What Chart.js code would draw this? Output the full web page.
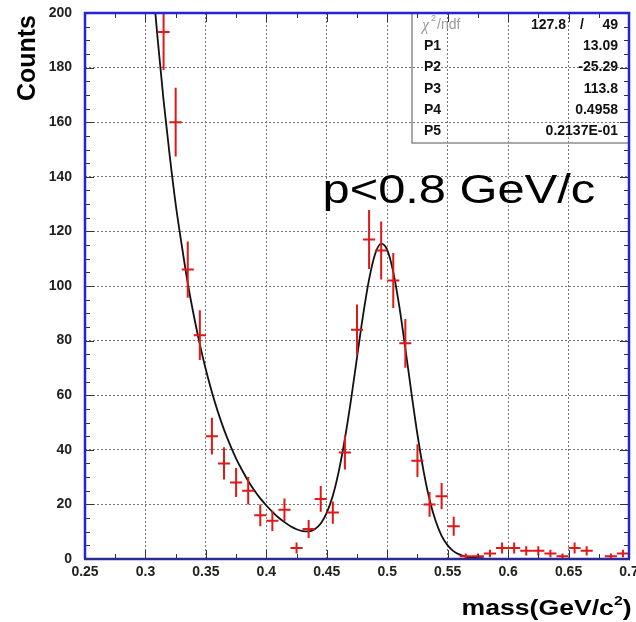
<!DOCTYPE html>
<html lang="en">
<head>
<meta charset="UTF-8">
<title>K0s invariant mass, p&lt;0.8 GeV/c</title>
<script src="https://cdn.jsdelivr.net/npm/chart.js@4"></script>
<style>
  * { margin: 0; padding: 0; }
  body { background: #fff; width: 636px; height: 622px; overflow: hidden; }
  canvas { display: block; }
</style>
</head>
<body>
<canvas id="massChart" width="636" height="622"></canvas>
<script>
// Histogram bins (bin centre, counts, error)
const massBins = [0.315, 0.325, 0.335, 0.345, 0.355, 0.365, 0.375, 0.385, 0.395, 0.405,
                  0.415, 0.425, 0.435, 0.445, 0.455, 0.465, 0.475, 0.485, 0.495, 0.505,
                  0.515, 0.525, 0.535, 0.545, 0.555, 0.565, 0.575, 0.585, 0.595, 0.605,
                  0.615, 0.625, 0.635, 0.645, 0.655, 0.665, 0.675, 0.685, 0.695];
const counts = [193, 160, 106, 82, 45, 35, 28, 25, 16, 14,
                18, 4, 11, 22, 17, 39, 84, 117, 113, 102,
                79, 36, 20, 23, 12, 1, 1, 2, 4, 4,
                3, 3, 2, 1, 4, 3, 0, 1, 2];
const countErrors = [13.9, 12.6, 10.3, 9.1, 6.7, 5.9, 5.3, 5.0, 4.0, 3.7,
                     4.2, 2.0, 3.3, 4.7, 4.1, 6.2, 9.2, 10.8, 10.6, 10.1,
                     8.9, 6.0, 4.5, 4.8, 3.5, 1.0, 1.0, 1.4, 2.0, 2.0,
                     1.7, 1.7, 1.4, 1.0, 2.0, 1.7, 0, 1.0, 1.4];
const binHalfWidth = 0.005;

// Fit curve (expo + gaus) sampled along the drawn line
const fitMass = [0.300, 0.305, 0.310, 0.315, 0.320, 0.325, 0.330, 0.335, 0.340, 0.345,
                 0.350, 0.355, 0.360, 0.365, 0.370, 0.375, 0.380, 0.385, 0.390, 0.395,
                 0.400, 0.405, 0.410, 0.415, 0.420, 0.425, 0.430, 0.435, 0.440, 0.445,
                 0.450, 0.455, 0.460, 0.465, 0.470, 0.475, 0.480, 0.485, 0.490, 0.495,
                 0.500, 0.505, 0.510, 0.515, 0.520, 0.525, 0.530, 0.535, 0.540, 0.545,
                 0.550, 0.555, 0.560, 0.565, 0.570, 0.575, 0.580];
const fitCounts = [245, 216, 191, 168, 148, 130, 115, 101, 89.2, 78.6,
                   69.3, 61.1, 53.8, 47.4, 41.8, 36.8, 32.5, 28.6, 25.2, 22.2,
                   19.6, 17.3, 15.2, 13.5, 12.0, 10.9, 10.2, 10.1, 10.9, 13.0,
                   17.0, 23.2, 32.3, 44.1, 58.2, 73.8, 89.2, 102.4, 111.7, 115.5,
                   113.2, 105.1, 92.5, 77.1, 60.9, 45.6, 32.4, 21.8, 14.0, 8.5,
                   5.0, 2.8, 1.6, 0.9, 0.5, 0.35, 0.26];

// Axis tick labels
const xTickValues = [0.25, 0.3, 0.35, 0.4, 0.45, 0.5, 0.55, 0.6, 0.65, 0.7];
const yTickValues = [0, 20, 40, 60, 80, 100, 120, 140, 160, 180, 200];

// Fit statistics box
const chi2Text = '127.8';
const ndfText = '49';
const paramNames = ['P1', 'P2', 'P3', 'P4', 'P5'];
const paramValues = ['13.09', '-25.29', '113.8', '0.4958', '0.2137E-01'];

const FONT = "'Liberation Sans', Arial, Helvetica, sans-serif";
Chart.defaults.font.family = FONT;

// Red error crosses, ROOT-like frame with inner ticks, stats box and labels
const rootStyle = {
  id: 'rootStyle',
  afterDatasetsDraw(chart) {
    const { ctx, chartArea: a, scales: { x, y } } = chart;
    ctx.save();
    ctx.beginPath();
    ctx.rect(a.left, a.top, a.right - a.left, a.bottom - a.top);
    ctx.clip();
    ctx.strokeStyle = '#e01818';
    ctx.lineWidth = 2;
    massBins.forEach((m, i) => {
      const px = x.getPixelForValue(m);
      const py = y.getPixelForValue(counts[i]);
      ctx.beginPath();
      ctx.moveTo(x.getPixelForValue(m - binHalfWidth), py);
      ctx.lineTo(x.getPixelForValue(m + binHalfWidth), py);
      ctx.moveTo(px, y.getPixelForValue(counts[i] + countErrors[i]));
      ctx.lineTo(px, y.getPixelForValue(counts[i] - countErrors[i]));
      ctx.stroke();
    });
    ctx.restore();
  },
  afterDraw(chart) {
    const { ctx, chartArea: a, scales: { x, y } } = chart;
    ctx.save();

    // stats box (transparent, grid shows through)
    const boxL = a.right - 217, boxB = a.top + 130;
    ctx.strokeStyle = '#8c8c8c';
    ctx.lineWidth = 1.5;
    ctx.strokeRect(boxL, a.top, a.right - boxL, boxB - a.top);

    const rowY = i => a.top + 12 + i * 21.3;
    ctx.textBaseline = 'middle';
    // chi2 / ndf row
    ctx.fillStyle = '#9a9a9a';
    ctx.textAlign = 'left';
    ctx.font = 'italic 16px "Liberation Serif", serif';
    ctx.fillText('\u03c7', boxL + 10, rowY(0) + 1);
    ctx.font = '9px ' + FONT;
    ctx.fillText('2', boxL + 19, rowY(0) - 6);
    ctx.font = '14px ' + FONT;
    ctx.fillText('/ndf', boxL + 25, rowY(0));
    ctx.fillStyle = '#111';
    ctx.font = 'bold 14px ' + FONT;
    ctx.textAlign = 'right';
    ctx.fillText(chi2Text, boxL + 154, rowY(0));
    ctx.textAlign = 'center';
    ctx.fillText('/', boxL + 170, rowY(0));
    ctx.textAlign = 'right';
    ctx.fillText(ndfText, a.right - 11, rowY(0));
    paramNames.forEach((name, i) => {
      ctx.textAlign = 'left';
      ctx.fillText(name, boxL + 12, rowY(i + 1));
      ctx.textAlign = 'right';
      ctx.fillText(paramValues[i], a.right - 11, rowY(i + 1));
    });

    // inner tick marks on all four sides
    ctx.strokeStyle = '#333';
    ctx.lineWidth = 1;
    ctx.beginPath();
    for (let k = 0; k <= 40; k++) {
      const py = Math.round(y.getPixelForValue(k * 5)) + 0.5;
      const len = k % 4 === 0 ? 9 : 5;
      ctx.moveTo(a.left, py); ctx.lineTo(a.left + len, py);
      ctx.moveTo(a.right, py); ctx.lineTo(a.right - len, py);
    }
    for (let k = 0; k <= 18; k++) {
      const px = Math.round(x.getPixelForValue(0.25 + k * 0.025)) + 0.5;
      const len = k % 2 === 0 ? 9 : 5;
      ctx.moveTo(px, a.bottom); ctx.lineTo(px, a.bottom - len);
      ctx.moveTo(px, a.top); ctx.lineTo(px, a.top + len);
    }
    ctx.stroke();

    // frame
    ctx.lineWidth = 2.5;
    ctx.strokeStyle = '#2323d8';
    ctx.beginPath();
    ctx.moveTo(a.left, a.bottom); ctx.lineTo(a.left, a.top);
    ctx.lineTo(a.right, a.top); ctx.lineTo(a.right, a.bottom);
    ctx.stroke();
    ctx.strokeStyle = '#2b2b98';
    ctx.beginPath();
    ctx.moveTo(a.left - 1, a.bottom); ctx.lineTo(a.right + 1, a.bottom);
    ctx.stroke();

    // momentum cut label
    ctx.fillStyle = '#000';
    ctx.textAlign = 'left';
    ctx.textBaseline = 'alphabetic';
    ctx.save();
    ctx.translate(322.5, 203);
    ctx.scale(1.22, 1);
    ctx.font = '40px ' + FONT;
    ctx.fillText('p<0.8 GeV/c', 0, 0);
    ctx.restore();

    // y axis title, at the top end of the axis
    ctx.save();
    ctx.translate(28, 15);
    ctx.rotate(-Math.PI / 2);
    ctx.font = 'bold 25px ' + FONT;
    ctx.textAlign = 'right';
    ctx.textBaseline = 'middle';
    ctx.fillText('Counts', 0, 0);
    ctx.restore();

    // x axis title, right end of the axis
    ctx.save();
    ctx.font = 'bold 22px ' + FONT;
    const main = 'mass(GeV/c';
    const wMain = ctx.measureText(main).width;
    const wParen = ctx.measureText(')').width;
    ctx.font = 'bold 13px ' + FONT;
    const wSup = ctx.measureText('2').width;
    const total = wMain + wSup + wParen;
    const sx = 1.21;
    ctx.translate(631.5 - total * sx, 615);
    ctx.scale(sx, 1);
    ctx.textAlign = 'left';
    ctx.font = 'bold 22px ' + FONT;
    ctx.fillText(main, 0, 0);
    ctx.font = 'bold 13px ' + FONT;
    ctx.fillText('2', wMain, -10);
    ctx.font = 'bold 22px ' + FONT;
    ctx.fillText(')', wMain + wSup, 0);
    ctx.restore();

    ctx.restore();
  }
};

const tickFont = { family: FONT, size: 14, weight: 'bold' };

new Chart(document.getElementById('massChart').getContext('2d'), {
  type: 'scatter',
  data: {
    datasets: [
      {
        type: 'line',
        data: fitMass.map((m, i) => ({ x: m, y: fitCounts[i] })),
        borderColor: '#111',
        borderWidth: 1.8,
        pointRadius: 0,
        fill: false,
        cubicInterpolationMode: 'monotone'
      },
      {
        data: massBins.map((m, i) => ({ x: m, y: counts[i] })),
        pointRadius: 0,
        showLine: false
      }
    ]
  },
  options: {
    responsive: false,
    animation: false,
    devicePixelRatio: 1,
    layout: { padding: { top: 13, right: 7, left: 0, bottom: 0 } },
    plugins: { legend: { display: false }, tooltip: { enabled: false } },
    scales: {
      x: {
        type: 'linear',
        min: 0.25,
        max: 0.7,
        afterBuildTicks: s => { s.ticks = xTickValues.map(v => ({ value: v })); },
        afterFit: s => { s.height = 63; s.paddingLeft = 0; s.paddingRight = 0; },
        grid: { color: '#777', lineWidth: 1, drawTicks: false },
        border: { display: false, dash: [2, 2] },
        ticks: { padding: 5, font: tickFont, color: '#222', maxRotation: 0, autoSkip: false,
                 callback: v => String(v) }
      },
      y: {
        min: 0,
        max: 200,
        afterBuildTicks: s => { s.ticks = yTickValues.map(v => ({ value: v })); },
        afterFit: s => { s.width = 85; s.paddingTop = 0; s.paddingBottom = 0; },
        grid: { color: '#777', lineWidth: 1, drawTicks: false },
        border: { display: false, dash: [2, 2] },
        ticks: { padding: 13, font: tickFont, color: '#222', autoSkip: false,
                 callback: v => String(v) }
      }
    }
  },
  plugins: [rootStyle]
});
</script>
</body>
</html>
